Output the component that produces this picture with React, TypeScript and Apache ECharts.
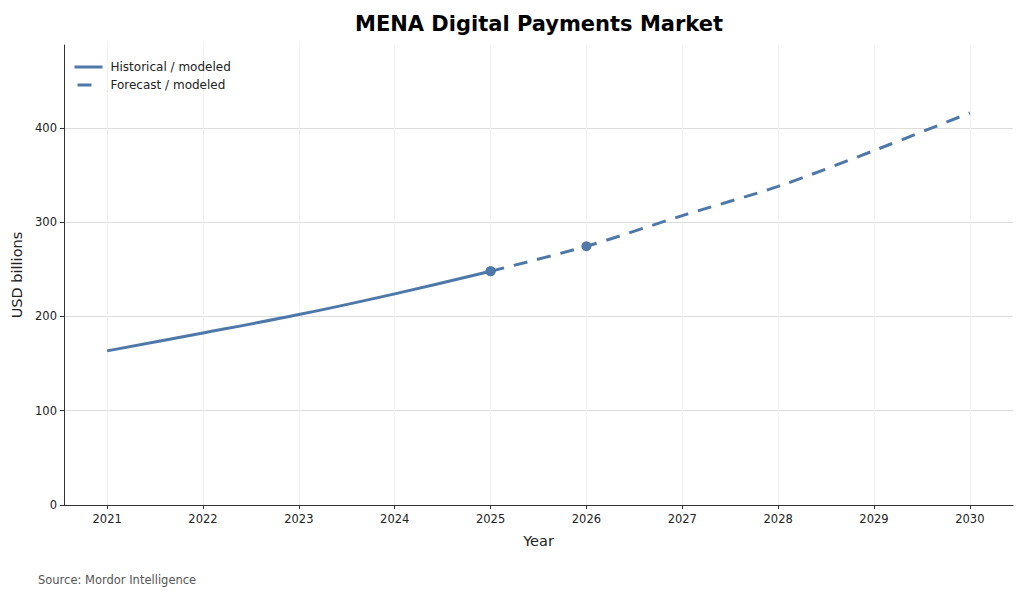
import React, { useEffect, useRef } from 'react';
import * as echarts from 'echarts';

const years = [2021, 2022, 2023, 2024, 2025, 2026, 2027, 2028, 2029, 2030];
const historicalYears = [2021, 2022, 2023, 2024, 2025];
const historicalValues = [163.5, 182.5, 202, 224, 248];
const forecastYears = [2025, 2026, 2027, 2028, 2029, 2030];
const forecastValues = [248, 274.5, 307, 338, 376, 416];
const markedYears = [2025, 2026];
const yTicks = [0, 100, 200, 300, 400];

const BLUE = '#4e78a8';
const FONT = 'DejaVu Sans';
const INK = '#222';

function toPoints(xs: number[], ys: number[]) {
  return xs.map((x, i) => {
    const p: any = { value: [x, ys[i]] };
    if (markedYears.includes(x)) {
      p.symbol = 'circle';
      p.symbolSize = 10;
    }
    return p;
  });
}

export default function App() {
  const ref = useRef<HTMLDivElement>(null);

  useEffect(() => {
    if (!ref.current) return;
    const chart = echarts.init(ref.current, null, { renderer: 'svg' });
    chart.setOption({
      animation: false,
      backgroundColor: '#fff',
      textStyle: { fontFamily: FONT },
      title: {
        text: 'MENA Digital Payments Market',
        left: 534,
        top: 8,
        textAlign: 'center',
        textStyle: { fontFamily: FONT, fontSize: 21, fontWeight: 'bold', color: '#000' },
      },
      legend: {
        orient: 'vertical',
        left: 73,
        top: 61,
        padding: 0,
        itemWidth: 28,
        itemHeight: 14,
        itemGap: 6,
        itemStyle: { opacity: 0 },
        lineStyle: { width: 3 },
        textStyle: { fontFamily: FONT, fontSize: 12, color: INK, padding: [0, 0, 0, 3] },
        data: [
          { name: 'Historical / modeled' },
          { name: 'Forecast / modeled', lineStyle: { type: [14, 30], dashOffset: 41 } },
        ],
      },
      grid: { left: 64, right: 11, top: 45, bottom: 92 },
      xAxis: {
        type: 'value',
        min: 2020.55,
        max: 2030.45,
        name: 'Year',
        nameLocation: 'middle',
        nameGap: 28,
        nameTextStyle: { fontFamily: FONT, fontSize: 14.5, color: INK },
        axisLine: { show: true, lineStyle: { color: '#333', width: 1 } },
        axisTick: { show: true, customValues: years, length: 4, lineStyle: { color: '#333' } },
        axisLabel: {
          customValues: years,
          formatter: (v: number) => String(v),
          fontFamily: FONT,
          fontSize: 11.5,
          color: INK,
          margin: 8,
        },
        splitLine: { show: true, lineStyle: { color: '#f2f2f2', width: 1 } },
      },
      yAxis: {
        type: 'value',
        min: 0,
        max: 488,
        name: 'USD billions',
        nameLocation: 'middle',
        nameGap: 40,
        nameTextStyle: { fontFamily: FONT, fontSize: 14.5, color: INK },
        axisLine: { show: true, lineStyle: { color: '#333', width: 1 } },
        axisTick: { show: true, customValues: yTicks, length: 4, lineStyle: { color: '#333' } },
        axisLabel: {
          customValues: yTicks,
          formatter: (v: number) => String(v),
          fontFamily: FONT,
          fontSize: 11.5,
          color: INK,
          margin: 7,
        },
        splitLine: { show: true, lineStyle: { color: '#dcdcdc', width: 1 } },
      },
      series: [
        {
          name: 'Historical / modeled',
          type: 'line',
          data: toPoints(historicalYears, historicalValues),
          smooth: 0.3,
          symbol: 'none',
          lineStyle: { color: BLUE, width: 3 },
          itemStyle: { color: BLUE },
          z: 3,
        },
        {
          name: 'Forecast / modeled',
          type: 'line',
          data: toPoints(forecastYears, forecastValues),
          smooth: 0.3,
          symbol: 'none',
          lineStyle: { color: BLUE, width: 3, type: [14, 10], cap: 'butt' },
          itemStyle: { color: BLUE },
          z: 3,
        },
      ],
      graphic: [
        {
          type: 'text',
          left: 38,
          top: 574,
          style: { text: 'Source: Mordor Intelligence', fontFamily: FONT, fontSize: 11.5, fill: '#555' },
        },
      ],
    });
    return () => chart.dispose();
  }, []);

  return (
    <div
      ref={ref}
      style={{ position: 'fixed', left: 0, top: 0, width: 1024, height: 597 }}
    />
  );
}
